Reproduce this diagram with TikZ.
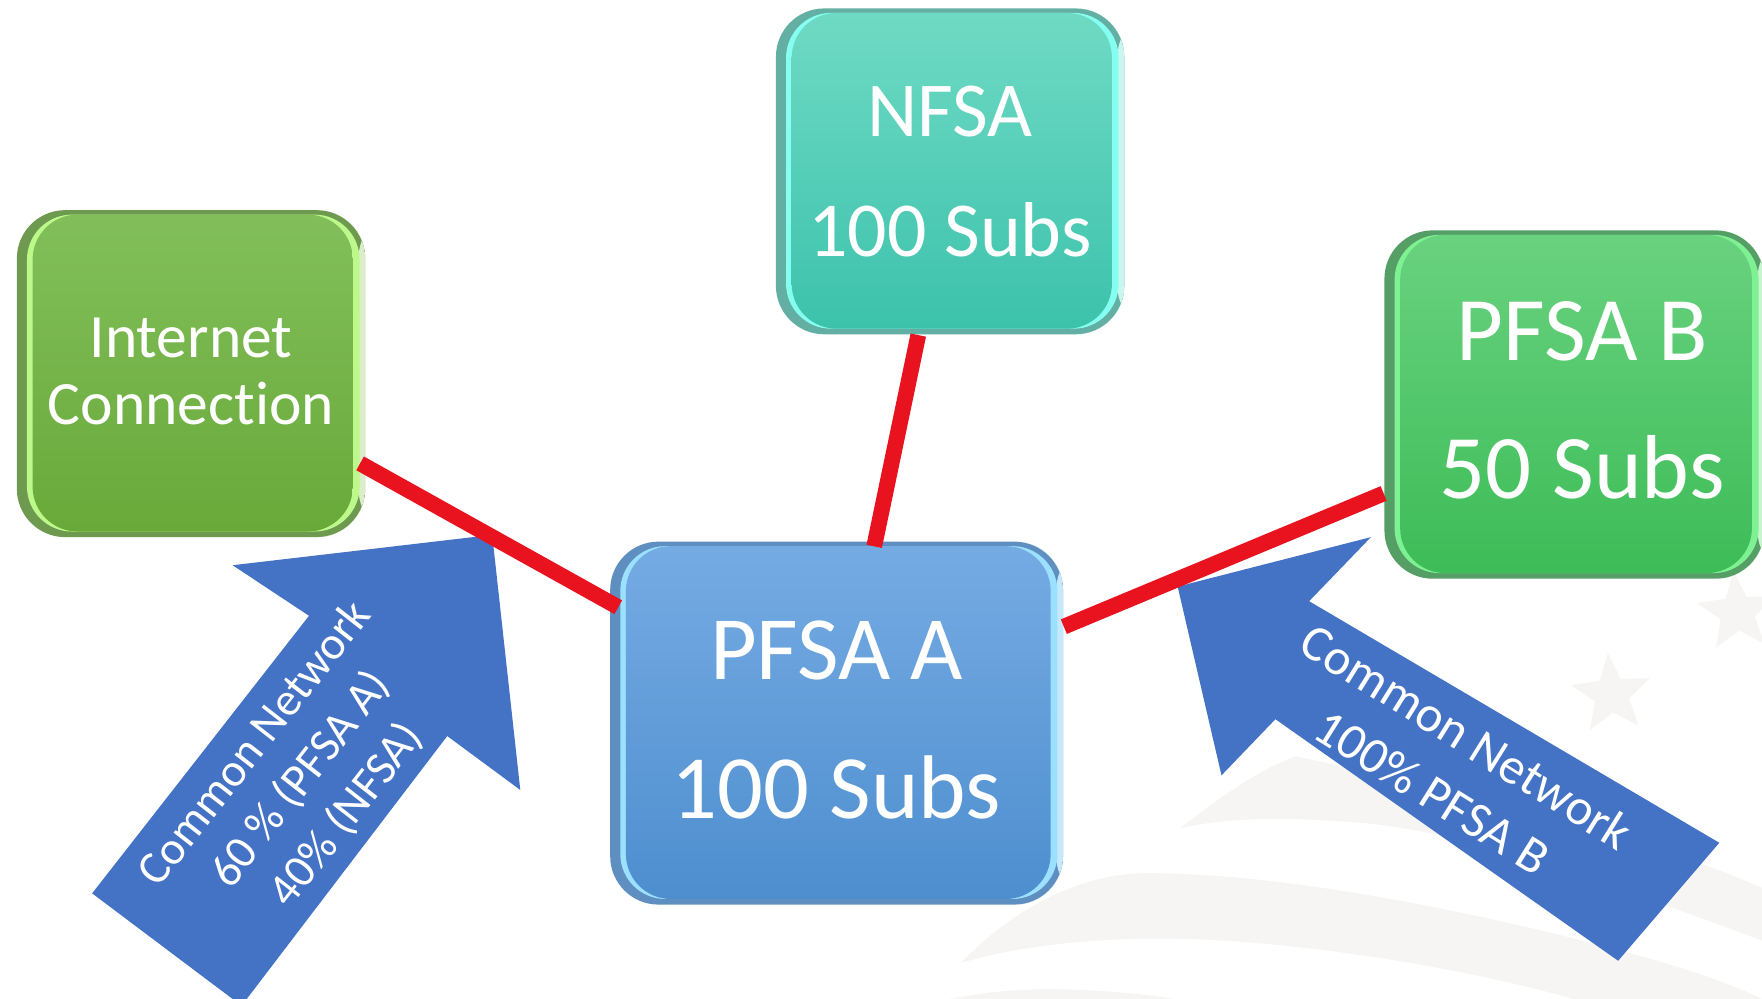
\documentclass[tikz,border=0pt]{standalone}
\usepackage{fontspec}
\setmainfont[Ligatures=NoCommon]{Carlito}
\usetikzlibrary{calc,shapes.geometric}
\definecolor{nfsaDark}{HTML}{64AFA3}\definecolor{nfsaBright}{HTML}{85FFF0}\definecolor{nfsaPale}{HTML}{CBF5EF}
\definecolor{nfsaTop}{HTML}{6FDAC4}\definecolor{nfsaMid}{HTML}{47D6BD}\definecolor{nfsaBot}{HTML}{3CC2AC}
\definecolor{inetDark}{HTML}{6E9A50}\definecolor{inetBright}{HTML}{BDF98A}\definecolor{inetPale}{HTML}{DDEDCB}
\definecolor{inetTop}{HTML}{82BF5A}\definecolor{inetMid}{HTML}{6DB43C}\definecolor{inetBot}{HTML}{69A93A}
\definecolor{pfbDark}{HTML}{559E66}\definecolor{pfbBright}{HTML}{7EF292}\definecolor{pfbPale}{HTML}{C8F5D0}
\definecolor{pfbTop}{HTML}{69D27F}\definecolor{pfbMid}{HTML}{4CCD68}\definecolor{pfbBot}{HTML}{3DBC57}
\definecolor{pfaDark}{HTML}{5F8FC0}\definecolor{pfaBright}{HTML}{9BE0FF}\definecolor{pfaPale}{HTML}{C5E8FA}
\definecolor{pfaTop}{HTML}{75ABE3}\definecolor{pfaMid}{HTML}{5B9FE3}\definecolor{pfaBot}{HTML}{4E8ECF}
\definecolor{linkred}{HTML}{E8131F}\definecolor{arrowblue}{HTML}{4472C4}\definecolor{faint}{HTML}{F6F5F3}
\tikzset{
  glass/.style={
    rectangle, rounded corners=4.3mm, fill=#1Dark, text=white, align=center, inner sep=0pt,
    path picture={
      \coordinate (gnw) at (path picture bounding box.north west);
      \coordinate (gse) at (path picture bounding box.south east);
      \fill[#1Pale] ($(gse)+(-6,0)$) rectangle (gse |- gnw);
      \fill[#1Bright, rounded corners=4mm] ($(gnw)+(9,4)$) rectangle ($(gse)+(-5,-5)$);
      \shade[top color=#1Top, middle color=#1Mid, bottom color=#1Bot, rounded corners=4mm]
        ($(gnw)+(14,4)$) rectangle ($(gse)+(-11,-5)$);
    }},
  link/.style={draw=linkred, line width=1.4mm},
  bigarrow/.style={fill=arrowblue},
  arrowtext/.style={text=white, align=center, inner sep=0pt},
  flagstar/.style={star, star points=5, star point ratio=2.3, fill=faint, inner sep=0pt, minimum size=7.4mm, rotate=5}
}
\begin{document}
\begin{tikzpicture}[x=0.1mm,y=-0.1mm]
\useasboundingbox (0,0) rectangle (1568,889);
\clip (0,0) rectangle (1568,889);
% faint flag background
\node[flagstar] (star1) at (1434,618) {};
\node[flagstar] (star2) at (1546,545) {};
\fill[faint] (1050,737) .. controls (1085,710) and (1120,685) .. (1153,673)
  .. controls (1280,700) and (1440,735) .. (1568,790) -- (1568,837)
  .. controls (1440,790) and (1300,735) .. (1192,731) .. controls (1140,727) and (1090,728) .. (1050,737) -- cycle;
\fill[faint] (855,857) .. controls (900,810) and (960,777) .. (1021,777)
  .. controls (1150,777) and (1330,815) .. (1461,851) .. controls (1500,862) and (1540,875) .. (1568,889)
  -- (1400,889) .. controls (1300,860) and (1120,830) .. (997,836) .. controls (945,838) and (895,845) .. (855,857) -- cycle;
\fill[faint] (845,889) .. controls (885,881) and (925,879) .. (962,881) .. controls (990,882) and (1020,885) .. (1046,889) -- cycle;
% boxes
\node[glass=nfsa, minimum width=31mm, minimum height=29mm, font=\fontsize{19.7}{30.3}\selectfont] (nfsa) at (845.5,152.5) {NFSA\\100 Subs};
\node[glass=inet, minimum width=31mm, minimum height=29.1mm, text depth=0.4mm, font=\fontsize{15.6}{16.8}\selectfont] (inet) at (170,332.5) {Internet\\Connection};
\node[glass=pfb, minimum width=33.8mm, minimum height=31mm, text depth=0.8mm, font=\fontsize{23}{35}\selectfont] (pfb) at (1401,360) {\hspace*{1.4mm}PFSA B\\\hspace*{1.4mm}50 Subs};
\node[glass=pfa, minimum width=40.3mm, minimum height=32.3mm, text depth=0.6mm, font=\fontsize{22.9}{35}\selectfont] (pfa) at (744.5,643.5) {PFSA A\\100 Subs};
% arrows
\fill[bigarrow] (438,476) -- (463,703) -- (398,655) -- (215,895) -- (82,795) -- (275,548) -- (207,503) -- cycle;
\node[arrowtext, rotate=52, font=\fontsize{11.8}{14.7}\selectfont] (lefttext) at (268,694) {Common Network\\60 \% (PFSA A)\\40\% (NFSA)};
\fill[bigarrow] (1220,478) -- (1165,535) -- (1530,750) -- (1440,855) -- (1135,640) -- (1087,690) -- (1048,522) -- cycle;
\node[arrowtext, rotate=-32, font=\fontsize{12.9}{16.5}\selectfont] (righttext) at (1290,680) {Common Network\\100\% PFSA B};
% links
\draw[link, shorten >=-0.9mm, shorten <=-0.6mm] (inet.-28.7) -- (pfa.152.5);
\draw[link, shorten >=-0.5mm] (nfsa.-101) -- (pfa.78);
\draw[link] (pfb.205.3) -- (pfa.23.4);
\end{tikzpicture}
\end{document}
